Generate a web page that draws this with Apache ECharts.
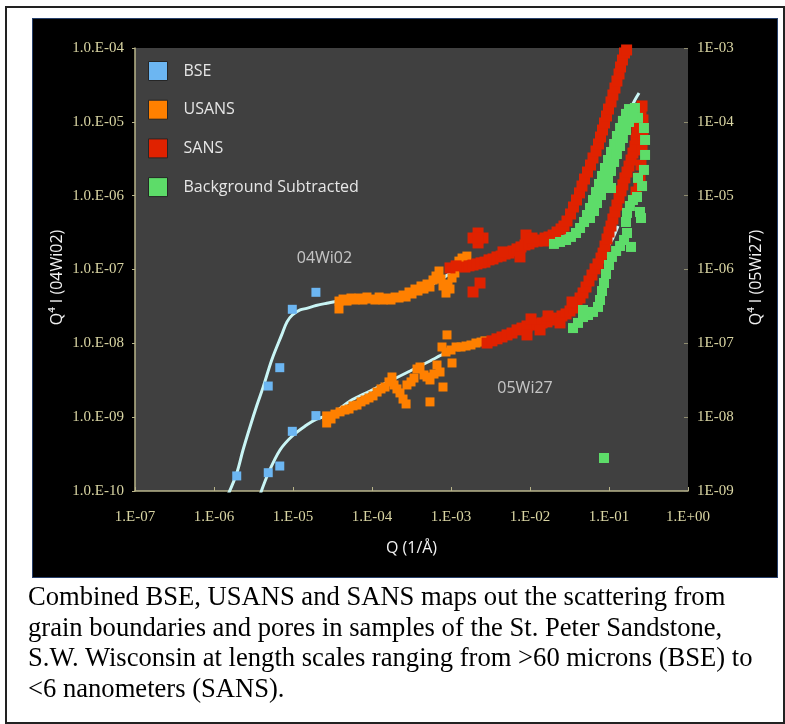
<!DOCTYPE html>
<html>
<head>
<meta charset="utf-8">
<script src="https://cdn.jsdelivr.net/npm/echarts@6/dist/echarts.min.js"></script>
<style>
  html, body { margin: 0; padding: 0; background: #ffffff; }
  #frame { position: absolute; left: 5px; top: 6px; width: 776px; height: 714px; border: 2px solid #222; }
  #panel { position: absolute; left: 32px; top: 18px; width: 744px; height: 558px; background: #000; border: 1px solid #27406b; }
  #chart { position: absolute; left: 0; top: 0; width: 785px; height: 724px; }
  #caption { position: absolute; left: 28px; top: 581px; font-family: "Liberation Serif", "Times New Roman", serif;
             font-size: 26.6px; line-height: 30.7px; color: #000; white-space: nowrap; }
</style>
</head>
<body>
<div id="frame"></div>
<div id="panel"></div>
<div id="chart"></div>
<div id="caption">
  <div>Combined BSE, USANS and SANS maps out the scattering from</div>
  <div>grain boundaries and pores in samples of the St. Peter Sandstone,</div>
  <div>S.W. Wisconsin at length scales ranging from &gt;60 microns (BSE) to</div>
  <div>&lt;6 nanometers (SANS).</div>
</div>
<script>
// Tick labels for the three log axes (one per decade)
const xTickLabels = ['1.E-07', '1.E-06', '1.E-05', '1.E-04', '1.E-03', '1.E-02', '1.E-01', '1.E+00'];
const leftTickLabels = ['1.0.E-10', '1.0.E-09', '1.0.E-08', '1.0.E-07', '1.0.E-06', '1.0.E-05', '1.0.E-04'];
const rightTickLabels = ['1E-09', '1E-08', '1E-07', '1E-06', '1E-05', '1E-04', '1E-03'];

const legendNames = ['BSE', 'USANS', 'SANS', 'Background Subtracted'];
const sampleLabels = ['04Wi02', '05Wi27'];
const sampleLabelPos = [[2.5e-5, 1.43e-7], [8.65e-3, 2.48e-8]];

// ---- sample 04Wi02 (left axis): [Q (1/A), Q^4 I] ----
const bse04 = [[1.94e-6, 1.6e-10], [4.86e-6, 2.64e-9], [6.8e-6, 4.68e-9], [9.8e-6, 2.89e-8], [1.95e-5, 4.91e-8]];

const usans04 = [
  [3.82e-5, 3.74e-8], [3.82e-5, 2.92e-8], [4.30e-5, 3.98e-8], [4.83e-5, 3.74e-8], [5.42e-5, 4.11e-8],
  [6.09e-5, 3.86e-8], [6.85e-5, 4.11e-8], [7.69e-5, 3.86e-8], [8.64e-5, 4.24e-8], [9.71e-5, 3.98e-8],
  [1.09e-4, 3.86e-8], [1.23e-4, 4.24e-8], [1.38e-4, 3.86e-8], [1.55e-4, 4.11e-8], [1.74e-4, 3.86e-8],
  [1.96e-4, 4.24e-8], [2.20e-4, 4.11e-8], [2.47e-4, 4.51e-8], [2.70e-4, 4.24e-8], [2.94e-4, 4.96e-8],
  [3.21e-4, 4.66e-8], [3.50e-4, 5.44e-8], [3.82e-4, 5.11e-8], [4.17e-4, 5.98e-8], [4.55e-4, 5.44e-8],
  [4.97e-4, 6.36e-8], [5.42e-4, 5.79e-8], [5.92e-4, 7.21e-8], [6.46e-4, 8.16e-8], [7.05e-4, 9.54e-8],
  [7.47e-4, 7.43e-8], [7.92e-4, 5.98e-8], [8.64e-4, 4.80e-8], [9.16e-4, 6.36e-8], [9.71e-4, 5.44e-8],
  [1.03e-3, 7.67e-8], [1.12e-3, 8.97e-8], [1.19e-3, 1.12e-7], [1.26e-3, 1.30e-7], [1.38e-3, 1.43e-7],
  [1.50e-3, 1.12e-7], [1.59e-3, 1.52e-7]
];

const sans04 = [
  [1.50e-3, 1.08e-7], [1.69e-3, 1.12e-7], [1.90e-3, 1.15e-7], [2.13e-3, 1.19e-7], [2.40e-3, 1.23e-7],
  [2.69e-3, 1.26e-7], [3.03e-3, 1.35e-7], [3.40e-3, 1.39e-7], [3.82e-3, 1.48e-7], [4.30e-3, 1.52e-7],
  [4.83e-3, 1.62e-7], [5.42e-3, 1.67e-7], [6.09e-3, 1.78e-7], [6.85e-3, 1.90e-7], [7.69e-3, 2.02e-7],
  [8.64e-3, 2.15e-7], [9.71e-3, 2.22e-7], [1.09e-2, 2.36e-7], [1.23e-2, 2.43e-7], [1.38e-2, 2.51e-7],
  [1.55e-2, 2.67e-7], [1.74e-2, 2.76e-7], [1.96e-2, 2.93e-7], [2.20e-2, 3.22e-7], [2.47e-2, 3.54e-7],
  [2.69e-2, 3.88e-7], [2.94e-2, 4.54e-7], [3.26e-2, 5.65e-7], [3.55e-2, 7.02e-7], [3.88e-2, 8.74e-7],
  [4.23e-2, 1.09e-6], [4.55e-2, 1.35e-6], [4.90e-2, 1.68e-6], [5.34e-2, 2.09e-6], [5.83e-2, 2.60e-6],
  [6.27e-2, 3.24e-6], [6.85e-2, 4.03e-6], [7.36e-2, 5.01e-6], [7.81e-2, 6.23e-6], [8.27e-2, 7.75e-6],
  [8.77e-2, 9.65e-6], [9.30e-2, 1.20e-5], [9.86e-2, 1.49e-5], [0.106, 1.86e-5], [0.112, 2.31e-5],
  [0.119, 2.87e-5], [0.126, 3.57e-5], [0.134, 4.45e-5], [0.140, 5.53e-5], [0.148, 6.88e-5],
  [0.157, 8.56e-5], [0.167, 9.40e-5],
  [9.71e-4, 1.05e-7], [1.16e-3, 1.12e-7], [1.90e-3, 2.67e-7], [2.54e-3, 2.67e-7], [2.20e-3, 3.12e-7],
  [2.20e-3, 2.29e-7], [2.20e-3, 2.67e-7], [2.33e-3, 6.56e-8], [1.90e-3, 4.96e-8], [8.90e-3, 2.93e-7],
  [7.47e-3, 1.48e-7], [1.06e-2, 2.67e-7], [4.55e-3, 1.73e-7], [1.55e-2, 2.43e-7]
];

const bg04 = [
  [2.01e-2, 2.22e-7], [2.40e-2, 2.36e-7], [2.86e-2, 2.51e-7], [3.30e-2, 2.76e-7], [3.82e-2, 3.12e-7],
  [4.30e-2, 3.65e-7], [4.83e-2, 4.40e-7], [5.27e-2, 5.47e-7], [5.75e-2, 6.81e-7], [6.27e-2, 8.74e-7],
  [6.85e-2, 1.12e-6], [7.47e-2, 1.44e-6], [8.15e-2, 1.85e-6], [8.90e-2, 2.37e-6], [9.71e-2, 3.04e-6],
  [0.106, 3.90e-6], [0.116, 5.01e-6], [0.126, 6.43e-6], [0.138, 8.25e-6], [0.150, 1.03e-5],
  [0.164, 1.28e-5], [0.179, 1.49e-5], [0.196, 1.36e-5], [0.213, 1.54e-5], [0.233, 1.13e-5],
  [5.75e-2, 4.98e-7], [6.46e-2, 6.20e-7], [7.05e-2, 7.96e-7], [7.92e-2, 1.02e-6], [8.64e-2, 1.31e-6],
  [9.71e-2, 1.68e-6], [0.106, 2.16e-6], [0.116, 2.86e-6], [0.126, 3.67e-6], [0.138, 4.71e-6],
  [0.150, 6.04e-6], [0.164, 7.75e-6], [0.179, 9.95e-6], [0.196, 1.20e-5]
];

const fit04 = [
  [1.50e-6, 8.83e-11], [1.94e-6, 1.74e-10], [2.33e-6, 3.59e-10], [2.86e-6, 7.43e-10], [3.50e-6, 1.46e-9],
  [4.21e-6, 2.59e-9], [5.38e-6, 5.95e-9], [7.19e-6, 1.30e-8], [8.40e-6, 1.95e-8], [9.80e-6, 2.42e-8],
  [1.23e-5, 2.83e-8], [1.49e-5, 2.98e-8], [1.96e-5, 3.25e-8], [2.67e-5, 3.49e-8], [3.94e-5, 3.78e-8],
  [7.05e-5, 3.99e-8], [1.26e-4, 4.11e-8], [2.26e-4, 4.38e-8], [4.05e-4, 5.28e-8], [7.26e-4, 7.21e-8],
  [1.30e-3, 1.08e-7], [2.33e-3, 1.35e-7], [4.17e-3, 1.62e-7], [7.47e-3, 2.02e-7], [1.16e-2, 2.43e-7],
  [1.96e-2, 2.59e-7], [2.77e-2, 2.84e-7], [3.71e-2, 3.22e-7], [4.69e-2, 4.01e-7], [5.58e-2, 6.01e-7],
  [6.46e-2, 8.74e-7], [7.69e-2, 1.35e-6], [8.90e-2, 2.09e-6], [0.103, 3.04e-6], [0.119, 4.56e-6],
  [0.138, 7.06e-6], [0.159, 1.03e-5], [0.184, 1.45e-5], [0.213, 1.98e-5], [0.240, 2.46e-5]
];

// ---- sample 05Wi27 (right axis) ----
const bse05 = [[4.86e-6, 1.77e-9], [6.8e-6, 2.18e-9], [9.8e-6, 6.43e-9], [1.95e-5, 1.05e-8]];

const usans05 = [
  [2.67e-5, 8.34e-9], [2.67e-5, 1.04e-8], [3.03e-5, 9.45e-9], [3.40e-5, 1.10e-8], [3.94e-5, 1.18e-8],
  [4.55e-5, 1.25e-8], [5.12e-5, 1.29e-8], [5.75e-5, 1.42e-8], [6.46e-5, 1.46e-8], [7.26e-5, 1.61e-8],
  [8.15e-5, 1.71e-8], [9.16e-5, 1.82e-8], [1.03e-4, 1.94e-8], [1.16e-4, 2.19e-8], [1.30e-4, 2.41e-8],
  [1.46e-4, 2.56e-8], [1.64e-4, 3.00e-8], [1.79e-4, 3.50e-8], [1.90e-4, 2.73e-8], [2.07e-4, 2.41e-8],
  [2.26e-4, 2.13e-8], [2.47e-4, 1.76e-8], [2.70e-4, 1.51e-8], [2.77e-4, 2.73e-8], [3.12e-4, 3.00e-8],
  [3.40e-4, 3.39e-8], [3.71e-4, 4.49e-8], [4.05e-4, 4.78e-8], [4.55e-4, 3.73e-8], [4.97e-4, 3.50e-8],
  [5.42e-4, 3.19e-8], [5.42e-4, 1.61e-8], [6.09e-4, 3.84e-8], [6.65e-4, 5.09e-8], [7.26e-4, 4.09e-8],
  [7.92e-4, 2.56e-8], [7.69e-4, 8.92e-8], [8.90e-4, 1.30e-7], [8.64e-4, 7.63e-8], [1.00e-3, 8.12e-8],
  [1.03e-3, 5.42e-8], [1.16e-3, 8.92e-8], [1.34e-3, 8.92e-8], [1.55e-3, 9.20e-8], [1.79e-3, 9.50e-8],
  [2.07e-3, 1.01e-7], [2.40e-3, 1.04e-7], [2.69e-3, 1.08e-7]
];

const sans05 = [
  [2.86e-3, 1.01e-7], [3.30e-3, 1.08e-7], [3.82e-3, 1.15e-7], [4.42e-3, 1.22e-7], [5.12e-3, 1.30e-7],
  [5.92e-3, 1.38e-7], [6.85e-3, 1.52e-7], [7.92e-3, 1.61e-7], [9.16e-3, 1.72e-7], [1.06e-2, 1.77e-7],
  [1.23e-2, 1.83e-7], [1.42e-2, 1.89e-7], [1.64e-2, 1.95e-7], [1.90e-2, 2.07e-7], [2.20e-2, 2.20e-7],
  [2.54e-2, 2.35e-7], [2.86e-2, 2.50e-7], [3.21e-2, 2.74e-7], [3.61e-2, 3.01e-7], [3.94e-2, 3.52e-7],
  [4.30e-2, 4.11e-7], [4.69e-2, 4.81e-7], [5.12e-2, 5.79e-7], [5.58e-2, 6.99e-7], [6.09e-2, 8.42e-7],
  [6.65e-2, 1.02e-6], [7.26e-2, 1.19e-6], [7.92e-2, 1.43e-6], [8.40e-2, 1.67e-6], [8.90e-2, 2.08e-6],
  [9.43e-2, 2.59e-6], [0.100, 3.22e-6], [0.106, 3.88e-6], [0.112, 4.83e-6], [0.119, 6.01e-6],
  [0.126, 7.47e-6], [0.134, 9.30e-6], [0.142, 1.16e-5], [0.150, 1.40e-5], [0.159, 1.74e-5],
  [0.169, 2.09e-5], [0.179, 2.52e-5], [0.190, 3.04e-5], [0.201, 3.78e-5], [0.213, 4.71e-5],
  [0.220, 5.86e-5], [0.226, 7.28e-5], [0.233, 9.06e-5], [0.240, 1.13e-4], [0.254, 1.40e-4],
  [0.262, 1.64e-4],
  [9.16e-3, 1.30e-7], [1.03e-2, 2.14e-7], [1.34e-2, 1.52e-7], [1.69e-2, 2.35e-7], [3.40e-2, 3.63e-7],
  [2.40e-2, 1.89e-7], [0.269, 1.06e-4], [0.269, 6.63e-5], [0.262, 4.16e-5], [0.254, 2.60e-5],
  [0.247, 1.74e-5], [0.220, 1.12e-5], [0.240, 1.53e-5]
];

const bg05 = [
  [3.50e-2, 1.61e-7], [4.05e-2, 1.89e-7], [4.69e-2, 2.27e-7], [4.69e-2, 2.83e-7], [5.42e-2, 2.42e-7],
  [6.27e-2, 2.66e-7], [7.26e-2, 3.11e-7], [7.69e-2, 3.86e-7], [8.15e-2, 5.11e-7], [8.64e-2, 6.56e-7],
  [9.16e-2, 8.69e-7], [0.100, 1.15e-6], [0.109, 1.48e-6], [0.123, 1.78e-6], [0.138, 2.08e-6],
  [0.155, 2.51e-6], [0.169, 3.12e-6], [0.164, 4.40e-6], [0.169, 5.83e-6], [0.184, 7.25e-6],
  [0.201, 8.74e-6], [0.226, 9.59e-6], [0.247, 6.01e-6], [0.254, 4.98e-6], [0.190, 2.02e-6],
  [0.106, 1.27e-5], [0.262, 1.35e-5], [0.233, 1.74e-5], [0.277, 2.23e-5], [0.286, 3.56e-5],
  [0.286, 5.68e-5], [0.277, 8.25e-5], [8.64e-2, 2.80e-9]
];

const fit05 = [
  [3.82e-6, 8.83e-10], [4.87e-6, 1.74e-9], [6.85e-6, 3.59e-9], [9.80e-6, 5.56e-9], [1.49e-5, 7.83e-9],
  [1.96e-5, 9.36e-9], [3.24e-5, 1.13e-8], [5.27e-5, 1.66e-8], [9.43e-5, 2.26e-8], [1.69e-4, 3.09e-8],
  [3.03e-4, 4.22e-8], [5.42e-4, 5.77e-8], [8.64e-4, 7.40e-8], [1.50e-3, 9.20e-8], [2.69e-3, 1.08e-7],
  [4.83e-3, 1.26e-7], [8.64e-3, 1.52e-7], [1.55e-2, 1.83e-7], [2.40e-2, 2.07e-7], [3.40e-2, 2.58e-7],
  [4.55e-2, 3.86e-7], [5.75e-2, 6.17e-7], [7.26e-2, 1.05e-6], [9.16e-2, 1.84e-6], [0.112, 2.67e-6],
  [0.130, 3.88e-6]
];

// ---- styling ----
const COLORS = { bse: '#6cb6f2', usans: '#ff8000', sans: '#e02200', bg: '#5ddc69', fit: '#c9f5f5' };
const AXIS_LINE = '#b8b48a';
const AXIS_TEXT = '#d9d5a3';
const SERIF = '"Liberation Serif", "Times New Roman", serif';
const SANS = '"Open Sans", "DejaVu Sans", sans-serif';

function decade(v) { return Math.round(Math.log10(v)); }

function scatter(name, data, color, size, yIdx) {
  return {
    type: 'scatter', name: name, data: data, yAxisIndex: yIdx,
    symbol: 'rect', symbolSize: size, itemStyle: { color: color, opacity: 1 },
    clip: true, silent: true
  };
}
function fitLine(id, data, yIdx) {
  return {
    type: 'line', name: id, data: data, yAxisIndex: yIdx, showSymbol: false, symbol: 'none',
    smooth: 0.35, lineStyle: { color: COLORS.fit, width: 3 }, clip: true, silent: true, z: 1
  };
}

const chart = echarts.init(document.getElementById('chart'), null, { renderer: 'canvas' });

chart.setOption({
  backgroundColor: 'transparent',
  animation: false,
  grid: {
    left: 135, top: 48, width: 553, height: 443, show: true,
    backgroundColor: '#404040', borderWidth: 0, outerBoundsMode: 'none', containLabel: false
  },
  legend: {
    data: legendNames, orient: 'vertical', left: 148, top: 61, padding: 0,
    itemWidth: 19, itemHeight: 19, itemGap: 18.7, icon: 'rect',
    itemStyle: { borderColor: '#262626', borderWidth: 1 },
    textStyle: { color: '#e6e6e6', fontSize: 16, fontFamily: SANS, padding: [0, 0, 0, 11] },
    selectedMode: false
  },
  xAxis: {
    type: 'log', logBase: 10, min: 1e-7, max: 1, splitNumber: 7,
    axisLine: { show: true, lineStyle: { color: AXIS_LINE, width: 1.5 } },
    axisTick: { show: true, inside: true, length: 4, lineStyle: { color: AXIS_LINE } },
    minorTick: { show: false }, splitLine: { show: false },
    axisLabel: {
      color: AXIS_TEXT, fontFamily: SERIF, fontSize: 15, margin: 19, showMinLabel: true, showMaxLabel: true,
      formatter: v => xTickLabels[decade(v) + 7] || ''
    },
    name: 'Q (1/Å)', nameLocation: 'middle', nameGap: 49, nameMoveOverlap: false,
    nameTextStyle: { color: '#f2f2f2', fontFamily: SANS, fontSize: 16 }
  },
  yAxis: [
    {
      type: 'log', logBase: 10, min: 1e-10, max: 1e-4, splitNumber: 6, position: 'left',
      axisLine: { show: true, lineStyle: { color: AXIS_LINE, width: 1.5 } },
      axisTick: { show: true, inside: false, length: 3, lineStyle: { color: AXIS_LINE } },
      minorTick: { show: false }, splitLine: { show: false },
      axisLabel: {
        color: AXIS_TEXT, fontFamily: SERIF, fontSize: 15, margin: 11, showMinLabel: true, showMaxLabel: true,
        formatter: v => leftTickLabels[decade(v) + 10] || ''
      },
      name: 'Q\u2074 I (04Wi02)', nameLocation: 'middle', nameRotate: 90, nameGap: 70, nameMoveOverlap: false,
      nameTextStyle: { color: '#f2f2f2', fontFamily: SANS, fontSize: 16, padding: [0, 16, 0, 0] }
    },
    {
      type: 'log', logBase: 10, min: 1e-9, max: 1e-3, splitNumber: 6, position: 'right',
      axisLine: { show: false },
      axisTick: { show: true, inside: true, length: 4, lineStyle: { color: '#8f8c70' } },
      minorTick: { show: false }, splitLine: { show: false },
      axisLabel: {
        color: AXIS_TEXT, fontFamily: SERIF, fontSize: 15, margin: 9, showMinLabel: true, showMaxLabel: true,
        formatter: v => rightTickLabels[decade(v) + 9] || ''
      },
      name: 'Q\u2074 I (05Wi27)', nameLocation: 'middle', nameRotate: 90, nameGap: 60, nameMoveOverlap: false,
      nameTextStyle: { color: '#f2f2f2', fontFamily: SANS, fontSize: 16, padding: [0, 16, 0, 0] }
    }
  ],
  series: [
    fitLine('fit 04Wi02', fit04, 0),
    fitLine('fit 05Wi27', fit05, 1),
    scatter('BSE', bse04, COLORS.bse, 9, 0),
    scatter('BSE', bse05, COLORS.bse, 9, 1),
    scatter('USANS', usans04, COLORS.usans, 9, 0),
    scatter('USANS', usans05, COLORS.usans, 9, 1),
    scatter('SANS', sans04, COLORS.sans, 11, 0),
    scatter('SANS', sans05, COLORS.sans, 11, 1),
    scatter('Background Subtracted', bg04, COLORS.bg, 10, 0),
    scatter('Background Subtracted', bg05, COLORS.bg, 10, 1),
    // sample name annotations
    {
      type: 'scatter', name: 'sample 04Wi02', yAxisIndex: 0, symbolSize: 0, silent: true,
      data: [sampleLabelPos[0]],
      label: { show: true, position: 'inside', formatter: sampleLabels[0], color: '#e6e6e6', fontFamily: SANS, fontSize: 16 }
    },
    {
      type: 'scatter', name: 'sample 05Wi27', yAxisIndex: 1, symbolSize: 0, silent: true,
      data: [sampleLabelPos[1]],
      label: { show: true, position: 'inside', formatter: sampleLabels[1], color: '#e6e6e6', fontFamily: SANS, fontSize: 16 }
    }
  ]
});
</script>
</body>
</html>
